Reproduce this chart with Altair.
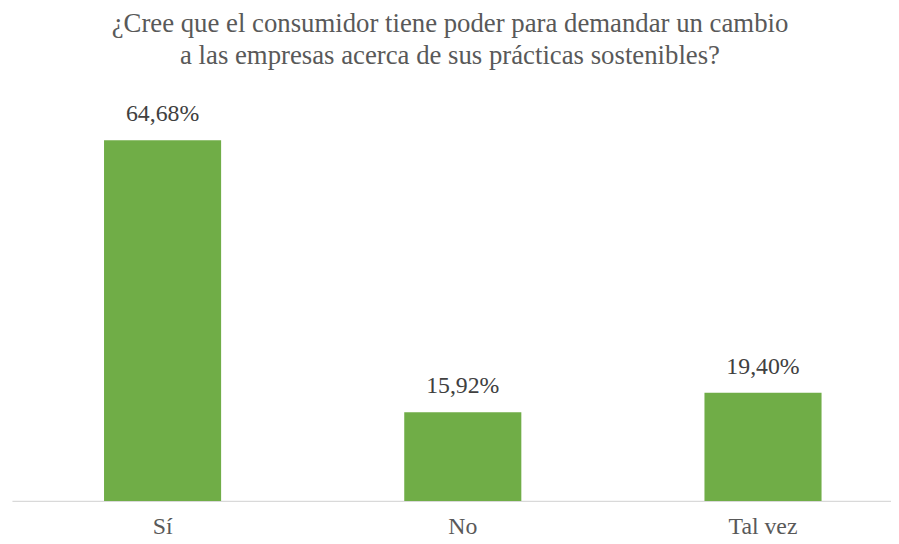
import altair as alt
import pandas as pd

categories = ["Sí", "No", "Tal vez"]
values = [64.68, 15.92, 19.40]
labels = ["64,68%", "15,92%", "19,40%"]

df = pd.DataFrame({"cat": categories, "val": values, "lab": labels})

FONT = "Liberation Serif"

x = alt.X("cat:N", sort=categories, title=None,
          scale=alt.Scale(paddingInner=0.61, paddingOuter=0.269, align=0.57),
          axis=alt.Axis(labelAngle=0, labelFont=FONT, labelFontSize=24, labelColor="#595959",
                        ticks=False, domainColor="#d9d9d9", domainWidth=1.3, labelPadding=14))
y = alt.Y("val:Q", scale=alt.Scale(domain=[0, 70]), axis=None)

bars = alt.Chart(df).mark_bar(color="#70AD47").encode(x=x, y=y)
text = alt.Chart(df).mark_text(font=FONT, fontSize=24, color="#404040", baseline="alphabetic", dy=-19).encode(
    x=alt.X("cat:N", sort=categories), y="val:Q", text="lab:N")

chart = (bars + text).properties(
    width=887, height=394,
    padding={"left": 4, "top": 101, "right": 0, "bottom": 38},
    autosize=alt.AutoSizeParams(type="none"),
    title=alt.TitleParams(
        text=["¿Cree que el consumidor tiene poder para demandar un cambio",
              "a las empresas acerca de sus prácticas sostenibles?"],
        font=FONT, fontSize=27, fontWeight="normal", color="#595959",
        anchor="middle", lineHeight=32, offset=33, dx=-1.5),
).configure_view(stroke=None)

chart.save("out.html", embed_options={"renderer": "svg", "actions": False})
